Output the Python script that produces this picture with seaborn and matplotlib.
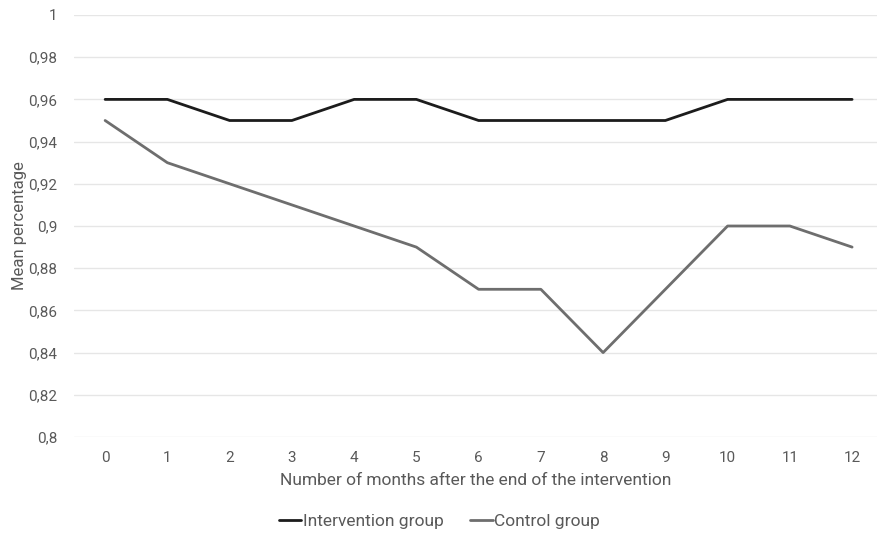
import pandas as pd
import matplotlib.pyplot as plt
import seaborn as sns
from matplotlib.ticker import FuncFormatter

months = list(range(13))
intervention = [0.96, 0.96, 0.95, 0.95, 0.96, 0.96, 0.95, 0.95, 0.95, 0.95, 0.96, 0.96, 0.96]
control = [0.95, 0.93, 0.92, 0.91, 0.90, 0.89, 0.87, 0.87, 0.84, 0.87, 0.90, 0.90, 0.89]
groups = ['Intervention group', 'Control group']

df = pd.DataFrame({
    'month': months * 2,
    'value': intervention + control,
    'group': [groups[0]] * 13 + [groups[1]] * 13,
})

sns.set_style('white')
plt.rcParams['font.family'] = ['Roboto', 'DejaVu Sans']
txt = '#595959'

fig = plt.figure(figsize=(8.79, 5.34), dpi=100)
ax = fig.add_axes([74 / 879, 1 - 437 / 534, (877 - 74) / 879, (437 - 15) / 534])

sns.lineplot(data=df, x='month', y='value', hue='group',
             palette={groups[0]: '#1c1c1c', groups[1]: '#6e6e6e'},
             linewidth=2, ax=ax, legend=True)

ax.set_xlim(-0.5, 12.4)
ax.set_ylim(0.8, 1.0)
ax.set_xticks(months)
ax.set_yticks([0.8 + 0.02 * i for i in range(11)])
ax.yaxis.set_major_formatter(FuncFormatter(lambda v, p: ('%.2f' % v).rstrip('0').rstrip('.').replace('.', ',')))
ax.grid(axis='y', color='#e6e6e6', linewidth=1)
ax.set_axisbelow(True)
for s in ax.spines.values():
    s.set_visible(False)
ax.tick_params(axis='both', length=0, labelsize=11, colors=txt, pad=10)
ax.tick_params(axis='y', pad=12)
ax.set_xlabel('Number of months after the end of the intervention', fontsize=12.5, color=txt, labelpad=6)
ax.set_ylabel('Mean percentage', fontsize=12, color=txt, labelpad=1)

handles, labels = ax.get_legend_handles_labels()
ax.get_legend().remove()
fig.legend(handles, labels, loc='center', bbox_to_anchor=(0.5, 1 - 521 / 534), ncol=2, frameon=False,
           fontsize=12.5, labelcolor=txt, handlelength=1.3, handletextpad=0.1, columnspacing=1.5)

fig.savefig('out.png', dpi=100)
